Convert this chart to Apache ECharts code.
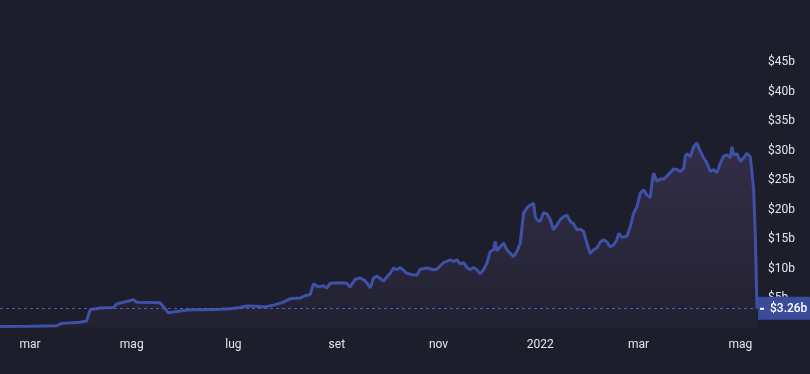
<!DOCTYPE html>
<html>
<head>
<meta charset="utf-8">
<script src="https://cdn.jsdelivr.net/npm/echarts@6/dist/echarts.min.js"></script>
<style>
html,body{margin:0;padding:0;background:#1c1e2c;}
#c{width:810px;height:374px;}
</style>
</head>
<body>
<div id="c"></div>
<script>
const dates = [
"2021-02-11","2021-03-01","2021-03-17","2021-03-20","2021-03-31","2021-04-04","2021-04-06","2021-04-12","2021-04-20","2021-04-22",
"2021-04-26","2021-05-02","2021-05-04","2021-05-14","2021-05-18","2021-05-23","2021-05-30","2021-06-05","2021-06-11","2021-06-17",
"2021-06-23","2021-06-29","2021-07-05","2021-07-09","2021-07-14","2021-07-20","2021-07-25","2021-07-31","2021-08-04","2021-08-10",
"2021-08-13","2021-08-16","2021-08-18","2021-08-21","2021-08-24","2021-08-26","2021-08-28","2021-09-03","2021-09-07","2021-09-09",
"2021-09-12","2021-09-15","2021-09-17","2021-09-19","2021-09-21","2021-09-23","2021-09-25","2021-09-29","2021-10-03","2021-10-05",
"2021-10-07","2021-10-09","2021-10-13","2021-10-17","2021-10-19","2021-10-21","2021-10-25","2021-10-29","2021-10-31","2021-11-04",
"2021-11-08","2021-11-10","2021-11-12","2021-11-14","2021-11-16","2021-11-18","2021-11-20","2021-11-22","2021-11-24","2021-11-26",
"2021-11-28","2021-11-30","2021-12-02","2021-12-04","2021-12-05","2021-12-06","2021-12-08","2021-12-10","2021-12-12","2021-12-14",
"2021-12-16","2021-12-18","2021-12-20","2021-12-22","2021-12-24","2021-12-26","2021-12-28","2021-12-29","2021-12-30","2022-01-01",
"2022-01-03","2022-01-05","2022-01-07","2022-01-09","2022-01-11","2022-01-13","2022-01-15","2022-01-17","2022-01-19","2022-01-21",
"2022-01-23","2022-01-25","2022-01-27","2022-01-29","2022-01-31","2022-02-02","2022-02-04","2022-02-06","2022-02-08","2022-02-10",
"2022-02-12","2022-02-14","2022-02-16","2022-02-17","2022-02-19","2022-02-22","2022-02-24","2022-02-26","2022-02-28","2022-03-02",
"2022-03-04","2022-03-06","2022-03-08","2022-03-09","2022-03-10","2022-03-12","2022-03-14","2022-03-16","2022-03-18","2022-03-20",
"2022-03-22","2022-03-24","2022-03-26","2022-03-28","2022-03-29","2022-03-30","2022-04-01","2022-04-03","2022-04-05","2022-04-06",
"2022-04-07","2022-04-09","2022-04-11","2022-04-13","2022-04-15","2022-04-17","2022-04-19","2022-04-21","2022-04-23","2022-04-25",
"2022-04-26","2022-04-27","2022-04-29","2022-05-01","2022-05-03","2022-05-05","2022-05-07","2022-05-09","2022-05-10","2022-05-11"
];
const tvl = [
0.15,0.2,0.3,0.7,0.9,1.1,3.0,3.3,3.4,4.0,
4.3,4.7,4.3,4.25,4.2,2.5,2.8,3.0,3.0,3.06,
3.1,3.2,3.4,3.65,3.6,3.5,3.8,4.3,4.9,5.0,
5.4,5.6,7.4,6.9,7.1,6.7,7.5,7.6,7.5,6.9,
8.2,8.4,8.1,7.6,6.7,8.4,8.75,7.9,9.2,10.1,
9.8,10.2,9.2,8.9,8.9,9.9,10.1,9.8,9.9,11.0,
11.5,11.2,11.5,10.8,11.0,10.2,9.8,10.2,9.8,9.1,
9.8,10.9,12.9,13.2,14.6,13.0,13.7,14.3,13.2,12.6,
12.0,12.9,14.3,19.4,20.3,20.8,21.1,18.8,18.3,18.0,
19.5,19.3,18.3,16.6,17.4,18.3,18.8,19.1,18.0,17.6,
16.6,16.7,16.3,14.3,12.5,13.2,13.5,14.5,14.9,14.5,
13.7,14.0,14.9,16.0,15.3,15.5,17.1,19.4,20.5,22.8,
23.4,22.5,22.0,24.5,26.2,24.8,25.2,25.2,25.7,26.3,
26.9,26.8,26.5,27.0,29.0,29.5,29.0,30.7,31.3,31.3,
29.9,28.8,27.9,26.5,26.8,26.3,27.9,29.1,29.3,28.8,
30.7,29.3,29.5,28.2,28.8,29.6,29.0,23.4,15.4,3.26
];
const yTicks = [5,10,15,20,25,30,35,40,45];
const monthNames = ["gen","feb","mar","apr","mag","giu","lug","ago","set","ott","nov","dic"];
const lastValue = tvl[tvl.length - 1];

const seriesData = dates.map((d, i) => [d, tvl[i]]);

const chart = echarts.init(document.getElementById('c'), null, {renderer: 'canvas'});
chart.setOption({
  backgroundColor: '#1c1e2c',
  animation: false,
  textStyle: {fontFamily: 'Roboto'},
  grid: {left: 0, right: 53, top: 33, bottom: 46.5, outerBoundsMode: 'none', containLabel: false},
  xAxis: {
    type: 'time',
    min: 'dataMin',
    max: 'dataMax',
    splitNumber: 6,
    boundaryGap: false,
    axisLine: {show: false},
    axisTick: {show: false},
    splitLine: {show: false},
    axisLabel: {
      color: '#e6e6ea',
      fontSize: 12,
      margin: 11,
      hideOverlap: false,
      formatter: function (v) {
        const d = new Date(v);
        if (d.getMonth() === 0) return String(d.getFullYear());
        return monthNames[d.getMonth()];
      }
    }
  },
  yAxis: {
    type: 'value',
    position: 'right',
    min: 0,
    max: 50,
    interval: 5,
    axisLine: {show: false},
    axisTick: {show: false},
    splitLine: {show: false},
    axisLabel: {
      color: '#e6e6ea',
      fontSize: 12,
      margin: 11,
      formatter: function (v) {
        return yTicks.indexOf(v) >= 0 ? '$' + v + 'b' : '';
      }
    }
  },
  series: [{
    type: 'line',
    data: seriesData,
    showSymbol: false,
    symbol: 'none',
    lineStyle: {color: '#3e50a8', width: 3},
    itemStyle: {color: '#3e50a8'},
    areaStyle: {
      color: new echarts.graphic.LinearGradient(0, 0, 0, 1, [
        {offset: 0, color: 'rgba(62,54,86,0.95)'},
        {offset: 1, color: 'rgba(38,36,52,0.9)'}
      ])
    },
    z: 3,
    markLine: {
      silent: true,
      symbol: ['none', 'none'],
      lineStyle: {color: '#4c5cb4', type: [3, 3], width: 1},
      data: [{yAxis: lastValue}],
      label: {
        show: true,
        position: 'end',
        distance: 1,
        formatter: '{t|}{g|}$' + lastValue + 'b',
        color: '#ffffff',
        fontSize: 12,
        fontWeight: 500,
        backgroundColor: '#3b4b9c',
        padding: [6, 8, 5, 2],
        rich: {
          t: {width: 4, height: 2, backgroundColor: '#ffffff'},
          g: {width: 6}
        }
      }
    }
  }]
});
</script>
</body>
</html>
